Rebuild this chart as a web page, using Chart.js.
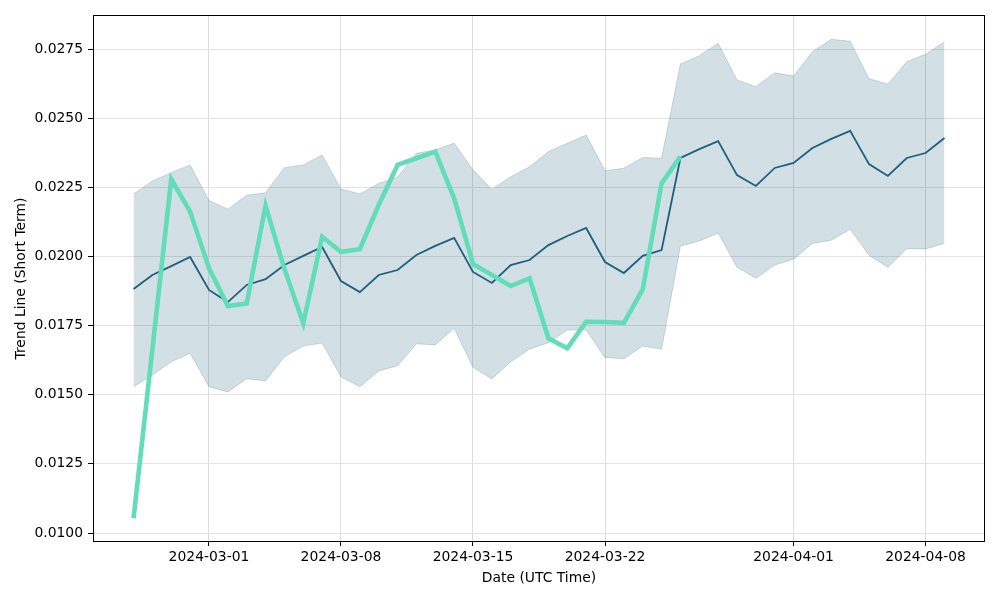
<!DOCTYPE html>
<html>
<head>
<meta charset="utf-8">
<script src="https://cdn.jsdelivr.net/npm/chart.js@4/dist/chart.umd.min.js"></script>
<style>
html,body{margin:0;padding:0;background:#fff;}
#wrap{width:1000px;height:600px;}
</style>
</head>
<body>
<div id="wrap"><canvas id="c" width="1000" height="600"></canvas></div>
<script>
const dates = ["2024-02-26","2024-02-27","2024-02-28","2024-02-29","2024-03-01","2024-03-02","2024-03-03","2024-03-04","2024-03-05","2024-03-06","2024-03-07","2024-03-08","2024-03-09","2024-03-10","2024-03-11","2024-03-12","2024-03-13","2024-03-14","2024-03-15","2024-03-16","2024-03-17","2024-03-18","2024-03-19","2024-03-20","2024-03-21","2024-03-22","2024-03-23","2024-03-24","2024-03-25","2024-03-26","2024-03-27","2024-03-28","2024-03-29","2024-03-30","2024-03-31","2024-04-01","2024-04-02","2024-04-03","2024-04-04","2024-04-05","2024-04-06","2024-04-07","2024-04-08","2024-04-09"];
const meanValues = [0.01882,0.01933,0.01965,0.01998,0.01879,0.01835,0.01897,0.01918,0.01969,0.02002,0.02034,0.01911,0.01871,0.01933,0.01951,0.02005,0.02038,0.02067,0.01944,0.01904,0.01969,0.01987,0.02041,0.02074,0.02103,0.01980,0.01940,0.02002,0.02023,0.02356,0.02388,0.02417,0.02294,0.02255,0.02320,0.02338,0.02392,0.02425,0.02454,0.02334,0.02291,0.02356,0.02374,0.02428];
const upperValues = [0.02226,0.02273,0.02303,0.02331,0.02202,0.02171,0.02221,0.02230,0.02321,0.02331,0.02367,0.02244,0.02226,0.02264,0.02287,0.02373,0.02385,0.02410,0.02313,0.02243,0.02288,0.02324,0.02379,0.02409,0.02439,0.02310,0.02319,0.02358,0.02355,0.02696,0.02726,0.02771,0.02638,0.02614,0.02664,0.02652,0.02740,0.02785,0.02778,0.02643,0.02623,0.02704,0.02731,0.02776];
const lowerValues = [0.01529,0.01571,0.01619,0.01650,0.01529,0.01510,0.01558,0.01550,0.01637,0.01676,0.01687,0.01565,0.01529,0.01586,0.01605,0.01684,0.01680,0.01740,0.01599,0.01557,0.01619,0.01665,0.01688,0.01734,0.01734,0.01635,0.01630,0.01676,0.01664,0.02038,0.02056,0.02085,0.01961,0.01921,0.01969,0.01990,0.02047,0.02059,0.02098,0.02004,0.01961,0.02028,0.02027,0.02048];
const actualValues = [0.01053,0.01665,0.02279,0.02162,0.01958,0.01821,0.01830,0.02183,0.01955,0.01758,0.02071,0.02017,0.02026,0.02186,0.02331,0.02355,0.02379,0.02210,0.01973,0.01933,0.01893,0.01921,0.01704,0.01668,0.01764,0.01763,0.01760,0.01881,0.02264,0.02361];
const xTickLabels = ["2024-03-01","2024-03-08","2024-03-15","2024-03-22","2024-04-01","2024-04-08"];
const yTickValues = [0.0100,0.0125,0.0150,0.0175,0.0200,0.0225,0.0250,0.0275];

const toPts = arr => arr.map((v,i)=>({x:i,y:v}));
const xTickIdx = xTickLabels.map(d=>dates.indexOf(d));
const font = {family:"'DejaVu Sans', sans-serif", size:13.9};

const framePlugin = {
  id:'frame',
  afterDraw(chart){
    const {ctx, chartArea:a} = chart;
    ctx.save();
    ctx.strokeStyle='#000'; ctx.lineWidth=1;
    ctx.strokeRect(Math.round(a.left)+0.5, Math.round(a.top)+0.5, Math.round(a.right-a.left)-1, Math.round(a.bottom-a.top)-1);
    ctx.restore();
  }
};

new Chart(document.getElementById('c'), {
  type:'line',
  data:{
    datasets:[
      {data:toPts(lowerValues), borderColor:'rgba(31,95,127,0.2)', borderWidth:1, pointRadius:0, fill:false, order:3},
      {data:toPts(upperValues), borderColor:'rgba(31,95,127,0.2)', borderWidth:1, pointRadius:0, fill:'-1', backgroundColor:'rgba(31,95,127,0.2)', order:2},
      {data:toPts(meanValues), borderColor:'#1f5f7e', borderWidth:1.8, pointRadius:0, fill:false, order:1},
      {data:toPts(actualValues), borderColor:'#61ddb8', borderWidth:4.6, pointRadius:0, fill:false, order:0, borderJoinStyle:'miter', borderCapStyle:'butt'}
    ]
  },
  options:{
    responsive:false,
    animation:false,
    layout:{padding:{top:15,right:15,left:0,bottom:0}},
    plugins:{legend:{display:false}, tooltip:{enabled:false}},
    scales:{
      x:{
        type:'linear', min:-2.15, max:45.15,
        afterBuildTicks(s){ s.ticks = xTickIdx.map(v=>({value:v})); },
        afterFit(s){ s.height = 58; },
        ticks:{ callback:(v)=>{const k=xTickIdx.indexOf(v); return k>=0?xTickLabels[k]:'';}, color:'#000', font, padding:3, maxRotation:0, autoSkip:false },
        grid:{ color:'#dddddd', lineWidth:1, tickColor:'#000', tickLength:4, drawTicks:true },
        border:{ display:false },
        title:{ display:true, text:'Date (UTC Time)', color:'#000', font, padding:{top:0,bottom:13.5} }
      },
      y:{
        type:'linear', min:0.009675, max:0.02873,
        afterBuildTicks(s){ s.ticks = yTickValues.map(v=>({value:v})); },
        afterFit(s){ s.width = 93; },
        ticks:{ callback:(v)=>Number(v).toFixed(4), color:'#000', font, padding:5 },
        grid:{ color:'#e3e3e3', lineWidth:1, tickColor:'#000', tickLength:5, drawTicks:true },
        border:{ display:false },
        title:{ display:true, text:'Trend Line (Short Term)', color:'#000', font, padding:{top:13.4,bottom:0} }
      }
    }
  },
  plugins:[framePlugin]
});
</script>
</body>
</html>
